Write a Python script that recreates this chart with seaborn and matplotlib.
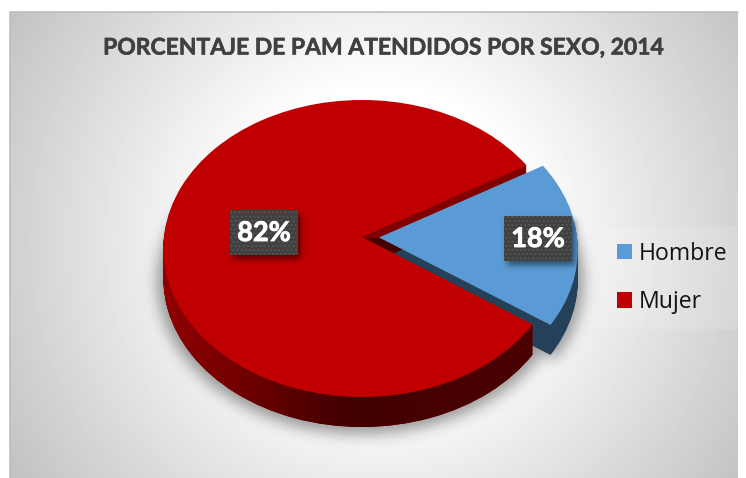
import numpy as np
import matplotlib
matplotlib.use("Agg")
import matplotlib.pyplot as plt
import matplotlib.patheffects as pe
import seaborn as sns
from matplotlib.patches import Rectangle
from matplotlib.path import Path
from matplotlib.transforms import Transform, IdentityTransform

# ---- data ----
categories = ["Hombre", "Mujer"]
percent = [18, 82]
title_text = "PORCENTAJE DE PAM ATENDIDOS POR SEXO, 2014"

W, H = 746, 478
CX, CY, A, B, K = 362.0, 237.0, 198.0, 147.6, 0.0774
DEPTH = 30
START = -34.5
EXPLODE = 0.086
BLUE, RED = "#5B9BD5", "#C00000"
BLUE_SIDE, RED_SIDE = "#254059", "#800000"

sns.set_theme(style="white")
plt.rcParams["font.family"] = ["Lato", "DejaVu Sans"]


class Tilt(Transform):
    """Perspective view of the unit-circle pie, in pixel coordinates."""
    input_dims = output_dims = 2

    def __init__(self, dy=0.0):
        super().__init__()
        self.dy = dy

    def transform_non_affine(self, v):
        v = np.asarray(v, float)
        w = 1 + K * v[:, 1]
        return np.column_stack((CX + A * v[:, 0] / w, CY + self.dy - B * v[:, 1] / w))


def blur(mask, sigma):
    fy = np.fft.fftfreq(mask.shape[0])[:, None]
    fx = np.fft.fftfreq(mask.shape[1])[None, :]
    g = np.exp(-2 * (np.pi * sigma) ** 2 * (fx ** 2 + fy ** 2))
    return np.real(np.fft.ifft2(np.fft.fft2(mask) * g))


fig = plt.figure(figsize=(W / 100, H / 100), dpi=100, facecolor="white")
ax = fig.add_axes([0, 0, 1, 1])


def draw_pie(dy, colors, zorders):
    wedges, _ = ax.pie(percent, colors=colors, startangle=START,
                       explode=[EXPLODE, 0], radius=1, counterclock=True,
                       wedgeprops=dict(linewidth=0))
    for w, z in zip(wedges, zorders):
        w.set_transform(Tilt(dy) + ax.transData)
        w.set_zorder(z)
        w.set_antialiased(True)
    return wedges


red_layers = []
for d in range(DEPTH, 0, -1):
    layer = draw_pie(d, [BLUE_SIDE, RED_SIDE], [2, 3])
    red_layers.append(layer[1])
top = draw_pie(0, [BLUE, RED], [5, 4])

ax.set_aspect("auto")
ax.set_xlim(0, W)
ax.set_ylim(H, 0)
ax.set_frame_on(False)
ax.set_xticks([])
ax.set_yticks([])

# ---- background panel ----
yy, xx = np.mgrid[0:H, 0:W] + 0.5
r = np.hypot(xx - 380, yy - 240)
gray = np.clip(255 - 60 * (r - 150) / 281, 0, 255) / 255
ax.imshow(gray[12:478, 10:738], cmap="gray", vmin=0, vmax=1, extent=(10, 738, 478, 12),
          aspect="auto", zorder=0, interpolation="bilinear")
ax.plot([10, 10, 738], [478, 12, 12], color="#bdbdbd", lw=1.2, zorder=0.5)

# ---- soft shadow under the pie ----
def unit_coords(dx, dy):
    Xp = (xx - CX - dx) / A
    Yp = (CY + dy - yy) / B
    y = Yp / (1 - K * Yp)
    x = Xp * (1 + K * y)
    return x, y

ux, uy = unit_coords(0, DEPTH + 2)
red_mask = (ux ** 2 + uy ** 2) <= 1.03 ** 2
ux, uy = unit_coords(17, DEPTH + 2)
ang = np.degrees(np.arctan2(uy, ux))
blue_mask = ((ux ** 2 + uy ** 2) <= 1.03 ** 2) & (ang > START) & (ang < START + 3.6 * percent[0])
sh = np.clip(blur((red_mask | blue_mask).astype(float), 7), 0, 1) * 0.38
rgba = np.zeros((H, W, 4))
rgba[..., 3] = sh
rgba[:12, :, 3] = 0
rgba[:, :10, 3] = 0
ax.imshow(rgba, extent=(0, W, H, 0), aspect="auto", zorder=1, interpolation="bilinear")

# ---- shaded side of the large slice ----
fig.canvas.draw()
clip = Path.make_compound_path(*[w.get_transform().transform_path(w.get_path()) for w in red_layers])
ramp_x = np.array([150, 175, 230, 300, 350, 430, 540])
ramp_v = np.array([0x9a, 0x8c, 0x76, 0x55, 0x40, 0x46, 0x4c]) / 255
cols = np.interp(np.arange(150, 541), ramp_x, ramp_v)
grad = np.zeros((1, cols.size, 4))
grad[0, :, 0] = cols
grad[0, :, 3] = 1
im = ax.imshow(grad, extent=(150, 541, 440, 238), aspect="auto", zorder=3.5, interpolation="bilinear")
im.set_clip_path(clip, IdentityTransform())

ax.set_xlim(0, W)
ax.set_ylim(H, 0)

# ---- title ----
ax.text(383.5, 48, title_text, ha="center", va="center", fontsize=16.5, fontweight="bold",
        color="#404040", zorder=8,
        path_effects=[pe.withStroke(linewidth=0.4, foreground="#404040")])

# ---- data labels ----
label_boxes = [(504, 216), (230, 210)]
BW, BH = 68, 45
sm = np.zeros((H, W))
for (bx, by) in label_boxes:
    sm[by + 4:by + BH + 4, bx + 3:bx + BW + 3] = 1
rgba2 = np.zeros((H, W, 4))
rgba2[..., 3] = np.clip(blur(sm, 3), 0, 1) * 0.5
ax.imshow(rgba2, extent=(0, W, H, 0), aspect="auto", zorder=5.5, interpolation="bilinear")
for (bx, by), p in zip(label_boxes, percent):
    ax.add_patch(Rectangle((bx, by), BW, BH, facecolor="#404040", edgecolor="#555555",
                           hatch="....", linewidth=0, zorder=6))
    ax.text(bx + BW / 2, by + BH / 2 + 0.5, f"{p}%", ha="center", va="center", color="white",
            fontsize=19.5, fontweight="bold", zorder=7,
            path_effects=[pe.withStroke(linewidth=0.6, foreground="white")])

ax.set_xlim(0, W)
ax.set_ylim(H, 0)

# ---- legend ----
leg = ax.legend(handles=top, labels=categories, loc="upper left", bbox_to_anchor=(602, 227),
                bbox_transform=ax.transData, borderaxespad=0, borderpad=0.64,
                prop=dict(family="Open Sans", size=16.6), handlelength=0.65, handleheight=0.65,
                handletextpad=0.3, labelspacing=1.05, frameon=True, fancybox=False,
                facecolor="white", edgecolor="none", framealpha=0.14)
leg.set_zorder(8)
for t in leg.get_texts():
    t.set_color("#111111")

fig.savefig("out.png", dpi=100)
